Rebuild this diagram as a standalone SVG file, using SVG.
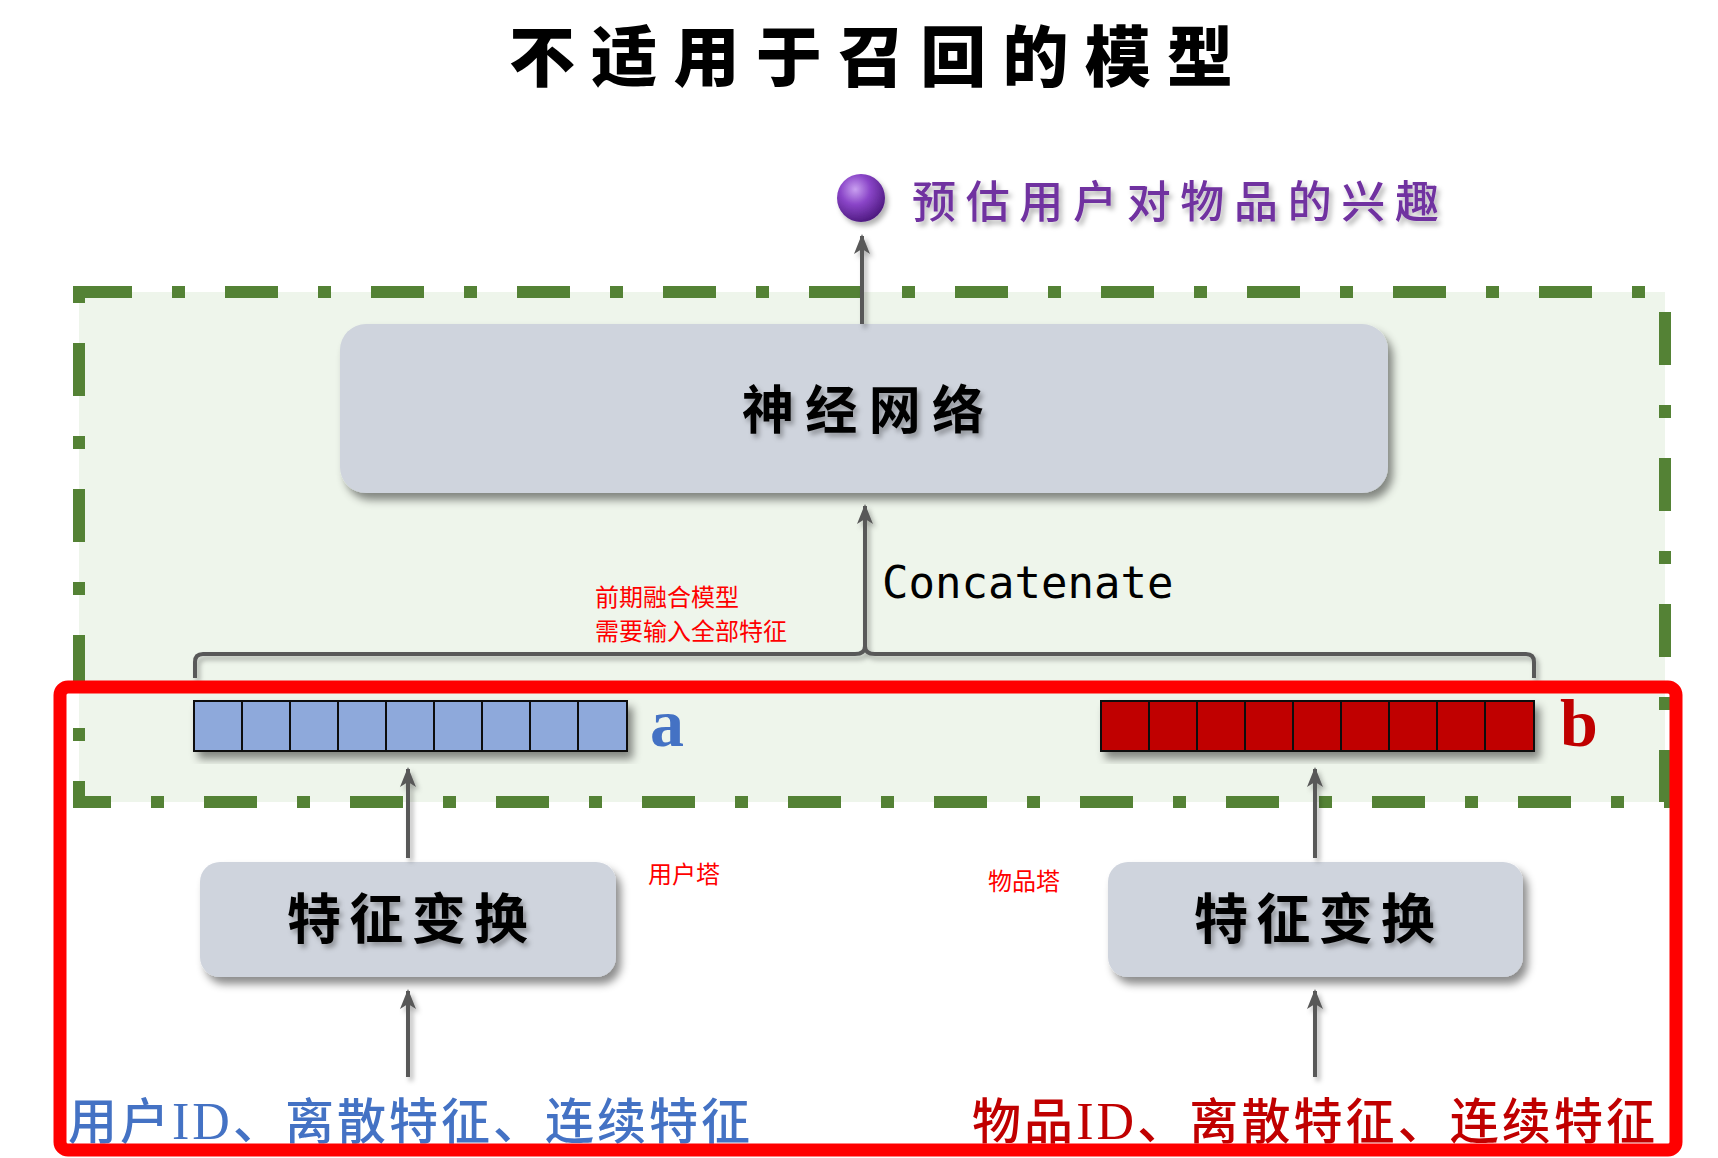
<svg xmlns="http://www.w3.org/2000/svg" width="1718" height="1158" viewBox="0 0 1718 1158">
<defs>
<style>
.cjk{font-family:"Noto Sans CJK SC","Noto Sans",sans-serif;}
.box{fill:#CFD4DD;}
.arrow{stroke:#595959;stroke-width:4;fill:none;}
.cell-a{fill:#8EA9DB;stroke:#111;stroke-width:2;}
.cell-b{fill:#C00000;stroke:#111;stroke-width:2;}
.red{fill:#FF0000;font-size:24px;}
.serif{font-family:"Liberation Serif",serif;}
</style>
<filter id="sh" x="-10%" y="-10%" width="125%" height="135%">
<feDropShadow dx="5" dy="7" stdDeviation="4" flood-color="#000" flood-opacity="0.45"/>
</filter>
<filter id="tsh" x="-10%" y="-10%" width="125%" height="135%">
<feDropShadow dx="3" dy="4" stdDeviation="2.5" flood-color="#000" flood-opacity="0.3"/>
</filter>
<radialGradient id="ball" cx="0.38" cy="0.32" r="0.7">
<stop offset="0" stop-color="#C9A0F0"/>
<stop offset="0.45" stop-color="#8A45C8"/>
<stop offset="1" stop-color="#4E1A80"/>
</radialGradient>
<marker id="ah" markerUnits="userSpaceOnUse" markerWidth="20" markerHeight="26" refX="18" refY="10" orient="auto" viewBox="0 0 20 20">
<path d="M0,2 L20,10 L0,18 L5,10 z" fill="#595959"/>
</marker>
</defs>
<rect width="1718" height="1158" fill="#FFFFFF"/>

<g id="title">
<text class="cjk" x="509" y="81" font-size="66" font-weight="900" fill="#000" textLength="724" lengthAdjust="spacing">不适用于召回的模型</text>
</g>

<g id="early-fusion-region">
<rect x="79" y="292" width="1586" height="510" fill="#EEF5EB" stroke="#548235" stroke-width="12" stroke-dasharray="53 40 13 40"/>
</g>

<g id="output">
<circle cx="861" cy="198" r="24" fill="url(#ball)" filter="url(#tsh)"/>
<text class="cjk" x="912" y="218" font-size="44" font-weight="500" fill="#7030A0" textLength="527" lengthAdjust="spacing" filter="url(#tsh)">预估用户对物品的兴趣</text>
</g>

<g id="nn">
<rect class="box" x="340" y="324" width="1048" height="169" rx="26" filter="url(#sh)"/>
<text class="cjk" x="742" y="429" font-size="52" font-weight="bold" fill="#000" textLength="242" lengthAdjust="spacing" filter="url(#tsh)">神经网络</text>
</g>

<g id="concat-label">
<text x="882" y="598" font-family="DejaVu Sans Mono, monospace" font-size="44" fill="#000">Concatenate</text>
</g>

<g id="note-early-fusion">
<text class="cjk red" x="595" y="606">前期融合模型</text>
<text class="cjk red" x="595" y="640">需要输入全部特征</text>
</g>

<g id="vector-a" filter="url(#sh)">
<rect class="cell-a" x="194" y="701" width="48" height="50"/>
<rect class="cell-a" x="242" y="701" width="48" height="50"/>
<rect class="cell-a" x="290" y="701" width="48" height="50"/>
<rect class="cell-a" x="338" y="701" width="48" height="50"/>
<rect class="cell-a" x="386" y="701" width="48" height="50"/>
<rect class="cell-a" x="434" y="701" width="48" height="50"/>
<rect class="cell-a" x="482" y="701" width="48" height="50"/>
<rect class="cell-a" x="530" y="701" width="48" height="50"/>
<rect class="cell-a" x="578" y="701" width="49" height="50"/>
</g>
<g id="label-a">
<text x="650" y="746" font-family="Liberation Serif, serif" font-weight="bold" font-size="68" fill="#4472C4">a</text>
</g>

<g id="vector-b" filter="url(#sh)">
<rect class="cell-b" x="1101" y="701" width="48" height="50"/>
<rect class="cell-b" x="1149" y="701" width="48" height="50"/>
<rect class="cell-b" x="1197" y="701" width="48" height="50"/>
<rect class="cell-b" x="1245" y="701" width="48" height="50"/>
<rect class="cell-b" x="1293" y="701" width="48" height="50"/>
<rect class="cell-b" x="1341" y="701" width="48" height="50"/>
<rect class="cell-b" x="1389" y="701" width="48" height="50"/>
<rect class="cell-b" x="1437" y="701" width="48" height="50"/>
<rect class="cell-b" x="1485" y="701" width="49" height="50"/>
</g>
<g id="label-b">
<text x="1560" y="746" font-family="Liberation Serif, serif" font-weight="bold" font-size="68" fill="#C00000">b</text>
</g>

<g id="user-transform">
<rect class="box" x="200" y="862" width="416" height="115" rx="20" filter="url(#sh)"/>
<text class="cjk" x="287" y="939" font-size="54" font-weight="bold" fill="#000" textLength="241" lengthAdjust="spacing" filter="url(#tsh)">特征变换</text>
</g>
<g id="item-transform">
<rect class="box" x="1108" y="862" width="415" height="115" rx="20" filter="url(#sh)"/>
<text class="cjk" x="1194" y="939" font-size="54" font-weight="bold" fill="#000" textLength="241" lengthAdjust="spacing" filter="url(#tsh)">特征变换</text>
</g>

<g id="note-towers">
<text class="cjk red" x="648" y="883">用户塔</text>
<text class="cjk red" x="988" y="890">物品塔</text>
</g>

<g id="user-input">
<text class="cjk" x="68" y="1139" font-size="49" font-weight="500" fill="#4472C4" textLength="682" lengthAdjust="spacing">用户<tspan class="serif" font-size="52">ID</tspan>、离散特征、连续特征</text>
</g>
<g id="item-input">
<text class="cjk" x="972" y="1139" font-size="49" font-weight="500" fill="#C00000" textLength="683" lengthAdjust="spacing">物品<tspan class="serif" font-size="52">ID</tspan>、离散特征、连续特征</text>
</g>

<g id="connectors" filter="url(#tsh)">
<line class="arrow" x1="862" y1="324" x2="862" y2="236" marker-end="url(#ah)"/>
<line class="arrow" x1="865" y1="652" x2="865" y2="506" marker-end="url(#ah)"/>
<path class="arrow" d="M195,678 V662 Q195,654 203,654 H855 Q865,654 865,646 Q865,654 875,654 H1526 Q1534,654 1534,662 V678"/>
<line class="arrow" x1="408" y1="858" x2="408" y2="769" marker-end="url(#ah)"/>
<line class="arrow" x1="1315" y1="858" x2="1315" y2="769" marker-end="url(#ah)"/>
<line class="arrow" x1="408" y1="1077" x2="408" y2="991" marker-end="url(#ah)"/>
<line class="arrow" x1="1315" y1="1077" x2="1315" y2="991" marker-end="url(#ah)"/>
</g>

<g id="two-tower-highlight">
<rect x="60" y="687" width="1616" height="463" rx="8" fill="none" stroke="#FF0000" stroke-width="13"/>
</g>
</svg>
